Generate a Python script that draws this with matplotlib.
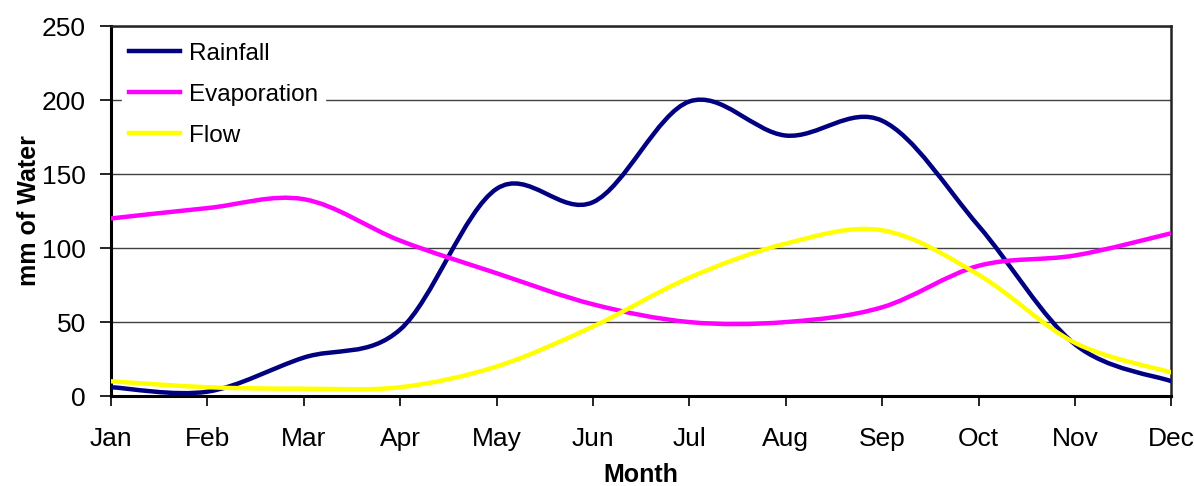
import matplotlib.pyplot as plt
from matplotlib.path import Path
from matplotlib.patches import PathPatch
from matplotlib.lines import Line2D
import numpy as np

months = ['Jan', 'Feb', 'Mar', 'Apr', 'May', 'Jun', 'Jul', 'Aug', 'Sep', 'Oct', 'Nov', 'Dec']
rainfall = [6, 3, 26, 45, 140, 131, 199, 176, 186, 115, 35, 10]
evaporation = [120, 127, 133, 105, 83, 62, 50, 50, 60, 88, 95, 110]
flow = [10, 6, 5, 6, 20, 47, 80, 103, 112, 82, 36, 16]


def smoothPath(xs, ys):
    # Excel-like smoothed line: cubic bezier segments through every data point
    pts = np.column_stack([xs, ys]).astype(float)
    n = len(pts)
    verts = [pts[0]]
    codes = [Path.MOVETO]
    for i in range(n - 1):
        p0 = pts[max(i - 1, 0)]
        p1 = pts[i]
        p2 = pts[i + 1]
        p3 = pts[min(i + 2, n - 1)]
        c1 = p1 + (p2 - p0) / 6.0
        c2 = p2 - (p3 - p1) / 6.0
        verts += [c1, c2, p2]
        codes += [Path.CURVE4] * 3
    return Path(verts, codes)


plt.rcParams['font.family'] = ['Liberation Sans', 'DejaVu Sans']

fig = plt.figure(figsize=(11.94, 4.86), dpi=100)
ax = fig.add_axes([0.093, 0.185, 0.888, 0.7615])

xPos = np.arange(len(months))
series = [
    ('Rainfall', rainfall, '#000080'),
    ('Evaporation', evaporation, '#FF00FF'),
    ('Flow', flow, '#FFFF00'),
]

handles = []
for name, vals, col in series:
    patch = PathPatch(smoothPath(xPos, vals), facecolor='none', edgecolor=col,
                      linewidth=3.2, zorder=3, capstyle='round', joinstyle='round')
    ax.add_patch(patch)
    handles.append(Line2D([], [], color=col, linewidth=3.2, label=name))

ax.set_xlim(0, len(months) - 1)
ax.set_ylim(0, 250)
ax.set_yticks([0, 50, 100, 150, 200, 250])
ax.set_xticks(xPos)
ax.set_xticklabels(months)
ax.grid(axis='y', color='#404040', linewidth=1.0, zorder=1)

for side in ['left', 'bottom']:
    ax.spines[side].set_linewidth(2.2)
for side in ['top', 'right']:
    ax.spines[side].set_linewidth(1.8)
    ax.spines[side].set_color('#222222')

ax.tick_params(axis='y', direction='out', length=8, width=1.2, labelsize=19, pad=10)
ax.tick_params(axis='x', direction='out', length=7, width=1.2, labelsize=19, pad=15)

ax.set_ylabel('mm of Water', fontsize=18, fontweight='bold')
ax.set_xlabel('Month', fontsize=18, fontweight='bold')
ax.yaxis.set_label_coords(-0.066, 0.5)
ax.xaxis.set_label_coords(0.5, -0.18)

leg = ax.legend(handles=handles, loc='upper left', bbox_to_anchor=(0.0104, 0.975),
                fontsize=17.5, frameon=True, fancybox=False, framealpha=1.0,
                handlelength=2.1, handletextpad=0.35, labelspacing=0.78,
                borderpad=0.3, borderaxespad=0.0)
leg.get_frame().set_edgecolor('white')
leg.get_frame().set_facecolor('white')
leg.set_zorder(5)

fig.savefig('out.png', dpi=100)
